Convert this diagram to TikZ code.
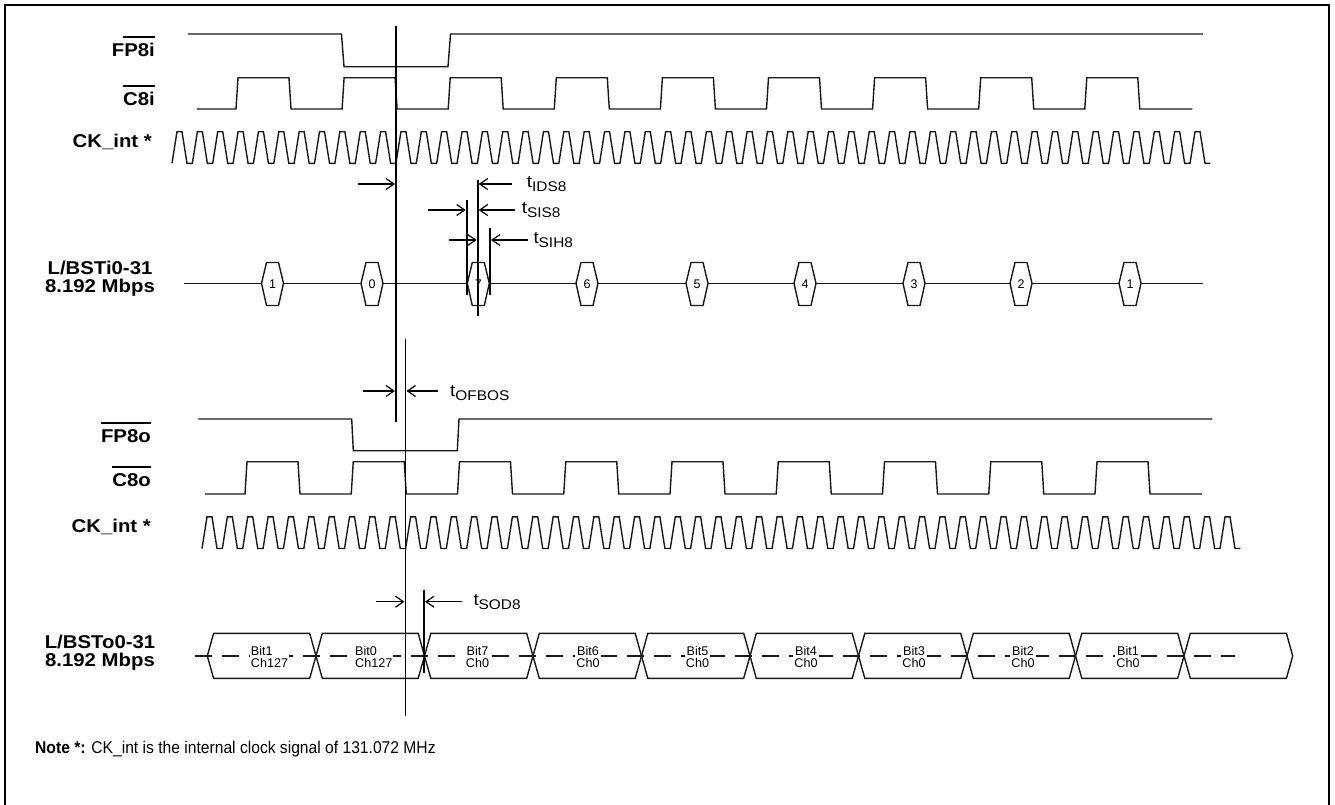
\documentclass[tikz,border=0pt]{standalone}
\usepackage{fontspec}
\setmainfont{Liberation Sans}
\newfontfamily\lblfont[FakeStretch=1.1]{Liberation Sans}
\newfontfamily\notefont[FakeStretch=0.92]{Liberation Sans}
\usetikzlibrary{arrows.meta}
\newcommand\tlabel[1]{t\raisebox{-4pt}{\fontsize{14}{14}\selectfont #1}}
\tikzset{
  sig/.style={line width=1.4, black!90},
  markline/.style={line width=1.8},
  arr/.style={line width=1.3, -{Straight Barb[length=8pt,width=11pt,line width=1.2pt]}},
  lab/.style={font=\lblfont\bfseries\fontsize{18.5}{18}\selectfont, inner sep=0},
  tl/.style={font=\lblfont\fontsize{17}{17}\selectfont, anchor=base west, inner sep=0},
  hexnum/.style={font=\fontsize{12.5}{12.5}\selectfont, inner sep=0},
  bittext/.style={font=\fontsize{12.6}{12.8}\selectfont, fill=white, inner sep=1pt, align=center},
  ovl/.style={line width=2}
}
\begin{document}
\begin{tikzpicture}[x=1pt,y=-1pt]
\useasboundingbox (0,0) rectangle (1335,804);
% frame
\draw[line width=2] (5,5) rectangle (1329,820);

% ---------- labels ----------
\node[lab, anchor=east] (lfp8i) at (155,50.3) {FP8i};
\draw[ovl] (123,36.7) -- (155,36.7);
\node[lab, anchor=east] (lc8i) at (155,99) {C8i};
\draw[ovl] ([yshift=6pt]lc8i.north west) -- ([yshift=6pt]lc8i.north east);
\node[lab, anchor=east] (lcki) at (152,142) {CK\_int *};
\node[lab, align=center] (lbsti) at (100,279) {L/BSTi0-31\\8.192 Mbps};

\node[lab, anchor=east] (lfp8o) at (151,436) {FP8o};
\draw[ovl] ([yshift=6pt]lfp8o.north west) -- ([yshift=6pt]lfp8o.north east);
\node[lab, anchor=east] (lc8o) at (151,480) {C8o};
\draw[ovl] ([yshift=6pt]lc8o.north west) -- ([yshift=6pt]lc8o.north east);
\node[lab, anchor=east] (lcko) at (151,527) {CK\_int *};
\node[lab, align=center] (lbsto) at (100,653) {L/BSTo0-31\\8.192 Mbps};

% ---------- input side ----------
% FP8i
\draw[sig] (188,34) -- (341.5,34) -- (344,66.7) -- (448,66.7) -- (450.5,34) -- (1203,34);
% C8i
\draw[sig] (196.7,109)
  \foreach \k in {0,...,8} {
    -- ({236+106.1*\k},109) -- ({238+106.1*\k},77.7)
    -- ({289+106.1*\k},77.7) -- ({291+106.1*\k},109)
  } -- (1192.3,109);
% CK_int upper
\draw[sig] (172,163.3)
  \foreach \k in {0,...,50} { -- ++(5,-31.6) -- ++(5,0) -- ++(5,31.6) -- ++(5.36,0) };
% BSTi bus
\draw[sig] (184,283.3) -- (1203,283.3);
\foreach \c/\t in {272.5/1,372/0,478.3/7,587/6,697/5,805/4,914/3,1021/2,1130/1} {
  \draw[sig, fill=white] (\c-11,283.3) -- (\c-6,262.5) -- (\c+6,262.5) -- (\c+11,283.3)
     -- (\c+6,305.5) -- (\c-6,305.5) -- cycle;
  \node[hexnum] at (\c,284) {\t};
}

% ---------- output side ----------
% FP8o
\draw[sig] (198.3,419) -- (351.7,419) -- (353.3,450.7) -- (457.3,450.7) -- (459,419) -- (1212.3,419);
% C8o
\draw[sig] (205,494)
  \foreach \k in {0,...,8} {
    -- ({245+106.25*\k},494) -- ({247+106.25*\k},461.7)
    -- ({298+106.25*\k},461.7) -- ({300+106.25*\k},494)
  } -- (1202,494);
% CK_int lower
\draw[sig] (202,548.5)
  \foreach \k in {0,...,50} { -- ++(5,-31.6) -- ++(5,0) -- ++(5,31.6) -- ++(5.36,0) };
% BSTo bus
\draw[sig, dash pattern=on 17pt off 10pt] (195,656) -- (1235,656);
\foreach \a/\b in {207.3/316,316/424.5,424.5/533,533/641.5,641.5/750,750/858.5,858.5/967,967/1075.5,1075.5/1184,1184/1292.7} {
  \draw[sig] (\a,656) -- (\a+6.3,633.3) -- (\b-6.3,633.3) -- (\b,656)
     -- (\b-6.3,678.3) -- (\a+6.3,678.3) -- cycle;
}
\node[bittext, align=left, anchor=west] (b1) at (249.7,657) {Bit1\\Ch127};
\node[bittext, align=left, anchor=west] (b0) at (354,657) {Bit0\\Ch127};
\foreach \c/\n in {477.5/7,588/6,697.5/5,806/4,914/3,1023/2,1128/1} {
  \node[bittext] at (\c,657) {Bit\n\\Ch0};
}

% ---------- markers ----------
\coordinate (m1t) at (396,26);   \coordinate (m1b) at (396,422);
\coordinate (m2t) at (405.5,339); \coordinate (m2b) at (405.5,716);
\draw[markline] (m1t) -- (m1b);
\draw[markline] (m2t) -- (m2b);
\draw[markline] (477.7,180) -- (477.7,316);
\draw[markline] (466.7,200) -- (466.7,295);
\draw[markline] (490,228) -- (490,295);
\draw[markline] (424,590) -- (424,673);

% ---------- timing arrows ----------
\draw[arr] (358.3,184) -- (395,184);
\draw[arr] (511.7,184) -- (478.7,184);
\node[tl] (tids) at (526.7,187) {\tlabel{IDS8}};
\draw[arr] (428.3,210) -- (465.7,210);
\draw[arr] (515,210) -- (478.7,210);
\node[tl] (tsis) at (521.7,213) {\tlabel{SIS8}};
\draw[arr] (449,240) -- (476.7,240);
\draw[arr] (528.3,240) -- (491,240);
\node[tl] (tsih) at (533.3,243) {\tlabel{SIH8}};
\draw[arr] (363.3,391) -- (395,391);
\draw[arr] (437.7,391) -- (406.5,391);
\node[tl] (tofbos) at (450,396) {\tlabel{OFBOS}};
\draw[arr] (376,601.7) -- (404.5,601.7);
\draw[arr] (461.7,601.7) -- (425,601.7);
\node[tl] (tsod) at (473.3,605) {\tlabel{SOD8}};

% ---------- note ----------
\node[anchor=west, inner sep=0, font=\notefont\fontsize{17}{17}\selectfont] (note) at (35,749)
  {\textbf{Note *:} CK\_int is the internal clock signal of 131.072 MHz};
\end{tikzpicture}
\end{document}
